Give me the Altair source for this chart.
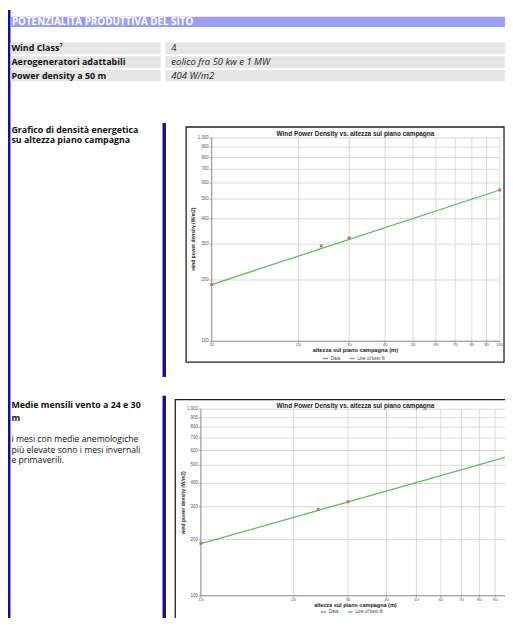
import altair as alt
import pandas as pd

# ---------------- data ----------------
x_ticks = [10, 20, 30, 40, 50, 60, 70, 80, 90, 100]
x_tick_labels = ["10", "20", "30", "40", "50", "60", "70", "80", "90", "100"]
y_ticks = [100, 200, 300, 400, 500, 600, 700, 800, 900, 1000]
y_tick_labels = ["100", "200", "300", "400", "500", "600", "700", "800", "900", "1,000"]

heights_1 = [10, 24, 30, 100]
density_1 = [190, 294, 322, 554]
fit_heights_1 = [10, 100]
fit_density_1 = [190, 554]

heights_2 = [10, 24, 30, 100]
density_2 = [191, 290, 319, 560]
fit_heights_2 = [10, 100]
fit_density_2 = [190, 560]

series_names = ["Data", "Line of best fit"]
series_colors = ["#d46a62", "#5fb85f"]

chart_title = "Wind Power Density vs. altezza sul piano campagna"
x_title = "altezza sul piano campagna (m)"
y_title = "wind power density (W/m2)"

header_title = "POTENZIALITA PRODUTTIVA DEL SITO"
row_labels = ["Wind Class", "Aerogeneratori adattabili", "Power density a 50 m"]
row_values = ["4", "eolico fra 50 kw  e 1 MW", "404 W/m2"]
sec1_lines = ["Grafico di densità energetica", "su altezza piano campagna"]
sec2_bold = ["Medie mensili vento a 24 e 30", "m"]
sec2_text = [" i mesi con medie anemologiche", "più elevate sono i mesi invernali", "e primaverili."]

DOC_FONT = "Open Sans"
CH_FONT = "Liberation Sans"
NAVY = "#12128c"
AX = "#8a8a8a"

base = alt.Chart(alt.Data(values=[{}]))
OFF = 8  # page margin


def rect(x1, y1, x2, y2, fill, stroke=None, sw=0):
    kw = dict(fill=fill)
    if stroke is not None:
        kw["stroke"] = stroke
        kw["strokeWidth"] = sw
    return base.mark_rect(**kw).encode(
        x=alt.value(x1 - OFF), x2=alt.value(x2 - OFF),
        y=alt.value(y1 - OFF), y2=alt.value(y2 - OFF))


def text(x, y, s, size=8, weight="normal", style="normal", color="#111",
         align="left", font=DOC_FONT, angle=0):
    return base.mark_text(align=align, baseline="middle", fontSize=size,
                          fontWeight=weight, fontStyle=style, color=color,
                          font=font, angle=angle).encode(
        x=alt.value(x - OFF), y=alt.value(y - OFF), text=alt.value(s))


decor = [
    rect(8, 5, 10.5, 640, NAVY),
    rect(10.5, 12, 520, 22.5, "#9d9df6"),
    text(12, 17.0, header_title, size=10, weight="bold", color="white"),
]
row_y = [(38, 50), (52, 64), (66, 77.5)]
for (a, b), lab, val in zip(row_y, row_labels, row_values):
    decor.append(rect(10.5, a, 163, b, "#e6e6e6"))
    decor.append(rect(168, a, 520, b, "#e6e6e6"))
    decor.append(text(11.5, (a + b) / 2, lab, size=9.1, weight="bold"))
    decor.append(text(174, (a + b) / 2, val, size=9.6,
                      style="normal" if val == "4" else "italic", color="#222"))
decor.append(text(60.5, 40.5, "7", size=5, weight="bold"))

# section 1
decor += [
    rect(165, 120, 168.5, 378, NAVY),
    text(11.5, 126.6, sec1_lines[0], size=9.0, weight="bold"),
    text(11.5, 137.6, sec1_lines[1], size=9.0, weight="bold"),
    rect(189, 124, 512, 363, "white", stroke="#222", sw=1.3),
    text(361, 131, chart_title, size=6.5, weight="bold", color="#222",
         align="center", font=CH_FONT),
    text(361, 350.6, x_title, size=5.8, weight="bold", color="#222",
         align="center", font=CH_FONT),
    text(196.5, 238, y_title, size=5, weight="bold", color="#333",
         align="center", font=CH_FONT, angle=270),
]
# section 2 (bottom of the page squeezed to fit the window)
decor += [
    rect(165, 397, 168.5, 640, NAVY),
    text(11.5, 407, sec2_bold[0], size=9.0, weight="bold"),
    text(11.5, 420, sec2_bold[1], size=9.0, weight="bold"),
    text(11.5, 441.0, sec2_text[0], size=8.8),
    text(11.5, 451.8, sec2_text[1], size=8.8),
    text(11.5, 462.6, sec2_text[2], size=8.8),
    rect(178, 401, 530, 660, "white", stroke="#222", sw=1.3),
    text(361, 407.5, chart_title, size=6.5, weight="bold", color="#222",
         align="center", font=CH_FONT),
    text(361, 610.2, x_title, size=5.6, weight="bold", color="#222",
         align="center", font=CH_FONT),
    text(186, 506, y_title, size=5, weight="bold", color="#333",
         align="center", font=CH_FONT, angle=270),
]


def wind_chart(h, d, fh, fd, xr, yr, ax_x, ax_y, leg_x, leg_y, n_xlabels):
    xs = alt.Scale(type="log", domain=[10, 100], range=[v - OFF for v in xr], nice=False)
    ys = alt.Scale(type="log", domain=[100, 1000], range=[v - OFF for v in yr], nice=False)
    X = lambda f: alt.X(f, scale=xs, axis=None)
    Y = lambda f: alt.Y(f, scale=ys, axis=None)
    legend = alt.Legend(orient="none", legendX=leg_x - OFF, legendY=leg_y - OFF,
                        direction="horizontal", title=None, symbolType="stroke",
                        symbolSize=28, symbolStrokeWidth=1.3, labelFontSize=4.5,
                        labelFont=CH_FONT, labelColor="#444", columnPadding=6,
                        padding=0, labelOffset=2)
    cscale = alt.Scale(domain=series_names, range=series_colors)

    xt = pd.DataFrame({"h": x_ticks, "lab": x_tick_labels, "lo": 100, "hi": 1000})
    yt = pd.DataFrame({"d": y_ticks, "lab": y_tick_labels, "lo": 10, "hi": 100})

    gv = alt.Chart(xt).mark_rule(color="#d0d0d0", strokeWidth=0.8).encode(
        x=X("h:Q"), y=Y("lo:Q"), y2="hi:Q")
    gh = alt.Chart(yt).mark_rule(color="#d0d0d0", strokeWidth=0.8).encode(
        x=X("lo:Q"), x2="hi:Q", y=Y("d:Q"))
    dom_x = alt.Chart(yt.head(1)).mark_rule(color=AX, strokeWidth=0.9).encode(
        x=X("lo:Q"), x2="hi:Q", y=Y("d:Q"))
    dom_y = alt.Chart(xt.head(1)).mark_rule(color=AX, strokeWidth=0.9).encode(
        x=X("h:Q"), y=Y("lo:Q"), y2="hi:Q")
    tick_x = alt.Chart(xt).mark_rule(color=AX, strokeWidth=0.8).encode(
        x=X("h:Q"), y=alt.value(ax_y - OFF), y2=alt.value(ax_y - OFF + 2))
    tick_y = alt.Chart(yt).mark_rule(color=AX, strokeWidth=0.8).encode(
        x=alt.value(ax_x - OFF - 2), x2=alt.value(ax_x - OFF), y=Y("d:Q"))
    lab_x = alt.Chart(xt.head(n_xlabels)).mark_text(
        fontSize=4.3, font=CH_FONT, color="#555", baseline="top", align="center").encode(
        x=X("h:Q"), y=alt.value(ax_y - OFF + 1.9), text="lab:N")
    lab_y = alt.Chart(yt).mark_text(
        fontSize=4.5, font=CH_FONT, color="#555", baseline="middle", align="right").encode(
        x=alt.value(ax_x - OFF - 3), y=Y("d:Q"), text="lab:N")

    line = alt.Chart(pd.DataFrame({"h": fh, "d": fd, "s": series_names[1]})).mark_line(
        strokeWidth=1.3).encode(
        x=X("h:Q"), y=Y("d:Q"),
        color=alt.Color("s:N", scale=cscale, legend=legend))
    pts = alt.Chart(pd.DataFrame({"h": h, "d": d, "s": series_names[0]})).mark_square(
        size=9, opacity=1).encode(
        x=X("h:Q"), y=Y("d:Q"),
        color=alt.Color("s:N", scale=cscale, legend=legend))
    return alt.layer(gv, gh, dom_x, dom_y, tick_x, tick_y, lab_x, lab_y, line, pts)


H, W = 610, 505
c1 = wind_chart(heights_1, density_1, fit_heights_1, fit_density_1,
                [215, 507.7], [341.7, 135], 215, 341.7, 327, 355.3, 10)
c2 = wind_chart(heights_2, density_2, fit_heights_2, fit_density_2,
                [204, 517.3], [600.3, 410.7], 204, 600.3, 325, 612.8, 9)

chart = alt.layer(*decor, c1, c2).resolve_scale(
    x="independent", y="independent", color="independent"
).properties(
    width=W, height=H, padding=0,
    autosize=alt.AutoSizeParams(type="none"),
    background="white",
).configure_view(stroke=None)

chart.save("out.html", embed_options={"renderer": "svg", "actions": False})
